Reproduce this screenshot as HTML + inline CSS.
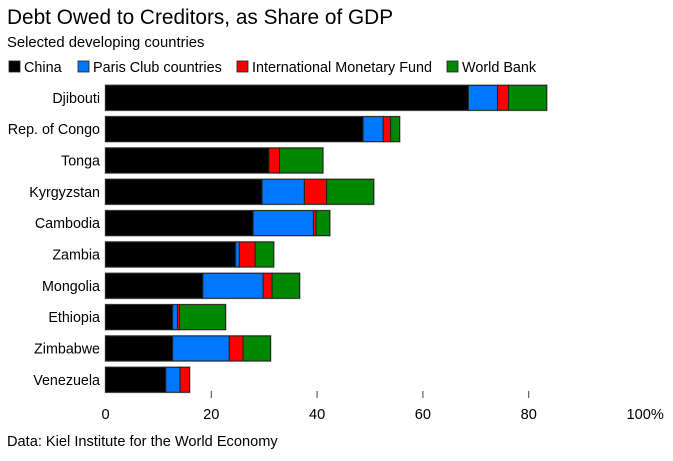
<!DOCTYPE html>
<html><head><meta charset="utf-8"><style>
body{margin:0;background:#fff;font-family:"Liberation Sans",Arial,sans-serif;}
svg text{font-family:"Liberation Sans",Arial,sans-serif;}
</style></head><body>
<svg id="chart" width="673" height="456" viewBox="0 0 673 456" xmlns="http://www.w3.org/2000/svg">
<text x="7" y="24" font-size="20.8" fill="#000">Debt Owed to Creditors, as Share of GDP</text>
<text x="7" y="47" font-size="14.8" fill="#000">Selected developing countries</text>
<g id="legend"></g>
<g id="bars"></g>
<g id="axis"></g>
<text x="7" y="446" font-size="14.6" fill="#000">Data: Kiel Institute for the World Economy</text>
</svg>
<script>
const countries=["Djibouti","Rep. of Congo","Tonga","Kyrgyzstan","Cambodia","Zambia","Mongolia","Ethiopia","Zimbabwe","Venezuela"];
const china=[68.6,48.7,30.9,29.6,27.9,24.6,18.4,12.7,12.7,11.4];
const parisClub=[5.5,3.8,0,8.0,11.4,0.7,11.4,0.9,10.7,2.7];
const imf=[2.1,1.4,2.0,4.2,0.5,3.0,1.7,0.4,2.6,1.8];
const worldBank=[7.2,1.7,8.2,8.9,2.6,3.5,5.2,8.7,5.2,0];
const seriesNames=["China","Paris Club countries","International Monetary Fund","World Bank"];
const ticks=[0,20,40,60,80,100];
const colors=["#000000","#0077ff","#ff0000","#008800"];
const NS="http://www.w3.org/2000/svg";
const x0=105.5,xs=5.29;
const xScale=v=>x0+v*xs;
const yTop=85.3,pitch=31.33,bh=25;
const yScale=i=>yTop+i*pitch;
function mk(tag,attrs,parent){const e=document.createElementNS(NS,tag);for(const k in attrs)e.setAttribute(k,attrs[k]);parent.appendChild(e);return e;}
const series=[china,parisClub,imf,worldBank];
const bars=document.getElementById('bars');
countries.forEach((c,i)=>{
  const y=yScale(i);
  const t=mk('text',{x:100,y:y+bh/2+5,'font-size':14.3,'text-anchor':'end',fill:'#000'},bars);
  t.textContent=c;
  
  
  let total=0;series.forEach(s=>total+=s[i]);
  const bg=mk('rect',{x:xScale(0)-1,y:y-1,width:total*xs+2,height:bh+2,fill:'#bbb'},bars);
  
  
  let acc=0;
  series.forEach((s,k)=>{
    if(s[i]>0){
      const r=mk('rect',{x:xScale(acc),y:y,width:s[i]*xs,height:bh,fill:colors[k],stroke:'#222','stroke-width':1},bars);
      
      
    }
    acc+=s[i];
  });
});
const axis=document.getElementById('axis');
ticks.forEach(v=>{
  const x=xScale(v);
  if(v>0&&v<100){const l=mk('line',{x1:x,x2:x,y1:391,y2:398,stroke:'#444','stroke-width':1},axis);
  
  }
  const t=mk('text',{x:v===100?x-8:x,y:419,'font-size':14.6,'text-anchor':v===100?'start':'middle',fill:'#000'},axis);
  t.textContent=v===100?'100%':String(v);
  
  
});
const legend=document.getElementById('legend');
const lx=[9,78,237,447];
seriesNames.forEach((n,k)=>{
  const r=mk('rect',{x:lx[k],y:61,width:11,height:11,fill:colors[k],stroke:'#222','stroke-width':0.8},legend);
  
  
  const t=mk('text',{x:lx[k]+15,y:72,'font-size':14.4,fill:'#000'},legend);
  t.textContent=n;
  
  
});
</script>
</body></html>
